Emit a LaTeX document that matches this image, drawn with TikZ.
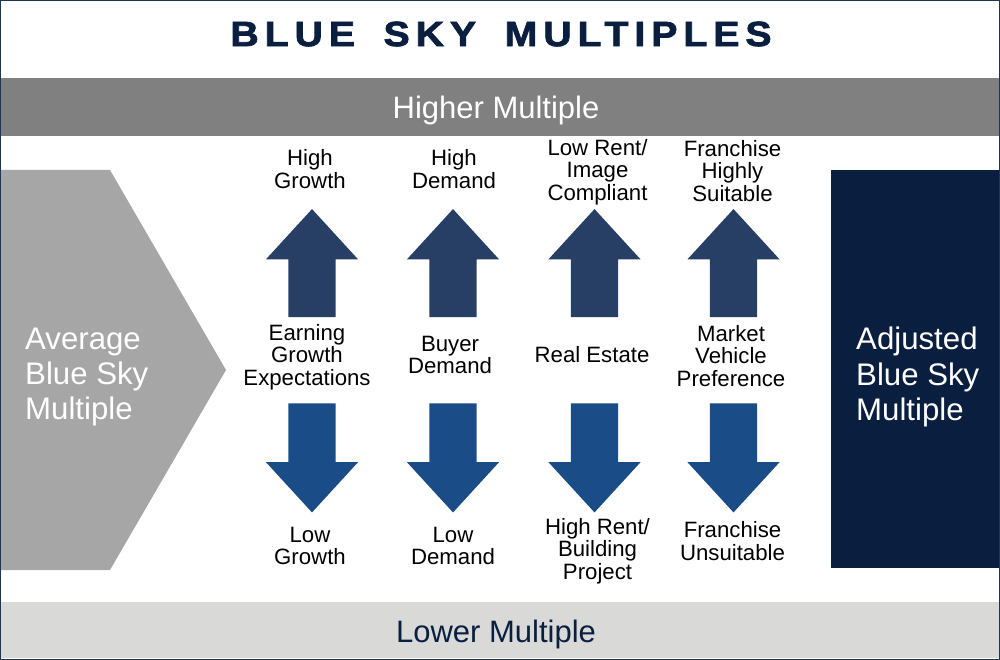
\documentclass[tikz,border=0pt]{standalone}
\usepackage{fontspec}
\usepackage{xcolor}
\usetikzlibrary{shapes.arrows, shapes.geometric}
\setmainfont{Liberation Sans}
\newfontfamily\titlefont[LetterSpace=17,WordSpace=1.7,FakeStretch=1.12,FakeBold=2.2]{Liberation Sans Bold}
\definecolor{navy}{HTML}{0A1F40}
\definecolor{frameblue}{HTML}{1D3557}
\definecolor{upblue}{HTML}{273F64}
\definecolor{downblue}{HTML}{1A4C87}
\definecolor{bargrey}{HTML}{808080}
\definecolor{lightbar}{HTML}{D9D9D8}
\definecolor{avggrey}{HTML}{A6A6A6}
\tikzstyle{label} = [inner sep=0, align=center, text=black, font=\fontsize{22.2}{22.3}\selectfont]
\tikzstyle{bigtext} = [inner sep=0, align=left, text=white, font=\fontsize{31.2}{35.3}\selectfont]
\tikzstyle{uparrow} = [shape=single arrow, shape border rotate=90, inner sep=23.5pt, minimum height=108pt, minimum width=92pt, single arrow head extend=22.5pt, single arrow tip angle=85, single arrow head indent=0pt, fill=upblue]
\tikzstyle{downarrow} = [shape=single arrow, shape border rotate=270, inner sep=23.5pt, minimum height=109pt, minimum width=92pt, single arrow head extend=22.5pt, single arrow tip angle=85, single arrow head indent=0pt, fill=downblue]
\begin{document}
\begin{tikzpicture}[x=1pt, y=-1pt, node distance=105pt]
\useasboundingbox (0,0) rectangle (1000,660);

% bars and side panels
\fill [bargrey] (0,78) rectangle (1000,136);
\fill [lightbar] (0,602) rectangle (1000,658);
\fill [avggrey] (0,170) -- (110,170) -- (226,370) -- (110,570) -- (0,570) -- cycle;
\fill [navy] (831,170) rectangle (1000,568);
\draw [frameblue, line width=2pt] (0,0) rectangle (1000,660);

\node [inner sep=0, text=navy, font=\titlefont\fontsize{35}{35}\selectfont] (title) at (501,34) {BLUE SKY MULTIPLES};
\node [inner sep=0, text=white, font=\fontsize{31}{31}\selectfont] (higher) at (496,110) {Higher Multiple};
\node [inner sep=0, text=navy, font=\fontsize{31}{31}\selectfont] (lower) at (496,634) {Lower Multiple};

\node [bigtext, anchor=west] (average) at (25,377) {Average\\Blue Sky\\Multiple};
\node [bigtext, anchor=west] (adjusted) at (856,377) {Adjusted\\Blue Sky\\Multiple};

% middle row
\node [label] (earning) at (307,357) {Earning\\Growth\\Expectations};
\node [label] (buyer) at (450,355) {Buyer\\Demand};
\node [label] (estate) at (592,355) {Real Estate};
\node [label] (market) at (731,356) {Market\\Vehicle\\Preference};

% arrows up
\node [uparrow] (up1) at (312,276) {};
\node [uparrow] (up2) at (453,276) {};
\node [uparrow] (up3) at (594.5,276) {};
\node [uparrow] (up4) at (733.5,276) {};

% arrows down
\node [downarrow] (down1) at (312,445) {};
\node [downarrow] (down2) at (453,445) {};
\node [downarrow] (down3) at (594.5,445) {};
\node [downarrow] (down4) at (733.5,445) {};

% top labels
\node [label, above of=up1, yshift=2pt, xshift=-2pt] (hgrowth) {High\\Growth};
\node [label, above of=up2, yshift=2pt, xshift=1pt] (hdemand) {High\\Demand};
\node [label, above of=up3, yshift=-1pt, xshift=3pt] (lowrent) {Low Rent/\\Image\\Compliant};
\node [label, above of=up4, yshift=0pt, xshift=-1pt] (suitable) {Franchise\\Highly\\Suitable};

% bottom labels
\node [label, below of=down1, yshift=4pt, xshift=-2pt] (lgrowth) {Low\\Growth};
\node [label, below of=down2, yshift=4pt, xshift=0pt] (ldemand) {Low\\Demand};
\node [label, below of=down3, yshift=-1pt, xshift=3pt] (highrent) {High Rent/\\Building\\Project};
\node [label, below of=down4, yshift=9pt, xshift=-1pt] (unsuitable) {Franchise\\Unsuitable};

\end{tikzpicture}
\end{document}
